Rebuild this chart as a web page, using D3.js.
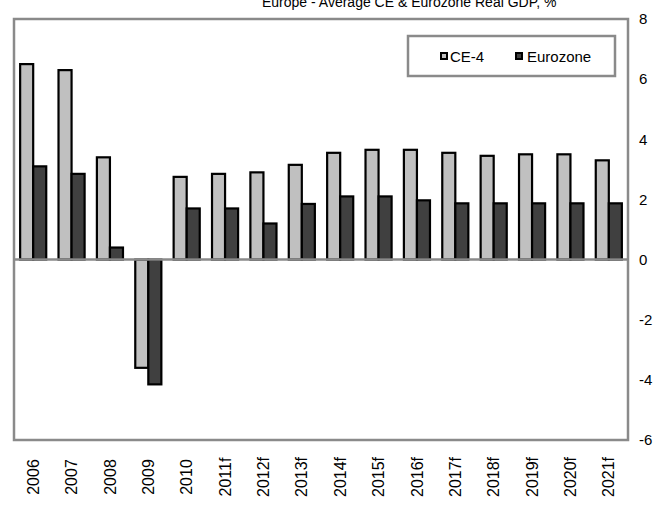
<!DOCTYPE html>
<html><head><meta charset="utf-8">
<script src="https://cdn.jsdelivr.net/npm/d3@7"></script>
<style>body{margin:0;background:#fff;} svg{display:block;font-family:"Liberation Sans",Arial,sans-serif;}</style>
</head><body><svg id="c" width="654" height="505"></svg>
<script>
const categories = ["2006","2007","2008","2009","2010","2011f","2012f","2013f","2014f","2015f","2016f","2017f","2018f","2019f","2020f","2021f"];
const ce4 = [6.5,6.3,3.4,-3.6,2.75,2.85,2.9,3.15,3.55,3.65,3.65,3.55,3.45,3.5,3.5,3.3];
const eurozone = [3.1,2.85,0.4,-4.15,1.7,1.7,1.2,1.85,2.1,2.1,1.97,1.87,1.87,1.87,1.87,1.87];
const seriesNames = ["CE-4","Eurozone"];
const seriesColors = ["#c0c0c0","#404040"];
const yTicks = [-6,-4,-2,0,2,4,6,8];
const title = "Europe - Average CE & Eurozone Real GDP, %";

const svg = d3.select("#c");
const L = 14, R = 628, T = 19, B = 440;
const x = d3.scaleBand().domain(categories).range([L, R]).paddingInner(0.32).paddingOuter(0.16);
const xs = d3.scaleBand().domain(seriesNames).range([0, x.bandwidth()]);
const y = d3.scaleLinear().domain([-6, 8]).range([B, T]);

svg.append("text").attr("x", 262).attr("y", 7).attr("font-size", 14).attr("fill", "#000").text(title);

const data = categories.map((c,i)=>({c, vals:[ce4[i], eurozone[i]]}));
const g = svg.append("g");
g.selectAll("g.cat").data(data).join("g").attr("class","cat")
  .attr("transform", d=>`translate(${x(d.c)},0)`)
  .selectAll("rect").data(d=>d.vals.map((v,j)=>({v,j}))).join("rect")
  .attr("x", d=>xs(seriesNames[d.j]))
  .attr("width", xs.bandwidth())
  .attr("y", d=>y(Math.max(0,d.v)))
  .attr("height", d=>Math.abs(y(d.v)-y(0)))
  .attr("fill", d=>seriesColors[d.j])
  .attr("stroke", "#000").attr("stroke-width", 2.2);

// zero line
svg.append("line").attr("x1", L).attr("x2", R).attr("y1", y(0)).attr("y2", y(0))
  .attr("stroke", "#8a8a8a").attr("stroke-width", 2.5);

// frame
svg.append("rect").attr("x", L).attr("y", T).attr("width", R-L).attr("height", B-T)
  .attr("fill","none").attr("stroke","#8a8a8a").attr("stroke-width",2.5);

// right axis
const ax = svg.append("g").attr("transform", `translate(${R},0)`)
  .call(d3.axisRight(y).tickValues(yTicks).tickSize(0).tickPadding(11).tickFormat(d=>String(d)));
ax.select(".domain").remove();
ax.selectAll("text").attr("font-size", 15).attr("font-family", "Liberation Sans, Arial, sans-serif").attr("fill","#000");

// bottom labels
const bx = svg.append("g").attr("transform", `translate(0,${B})`)
  .call(d3.axisBottom(x).tickSize(0).tickPadding(0));
bx.select(".domain").remove();
bx.selectAll("text").attr("font-size", 16).attr("font-family", "Liberation Sans, Arial, sans-serif").attr("fill","#000")
  .attr("transform","rotate(-90)").attr("text-anchor","middle").attr("dy","0.35em").attr("x",-37).attr("y",0);

// legend
const lg = svg.append("g");
lg.append("rect").attr("x",408).attr("y",36).attr("width",207).attr("height",40)
  .attr("fill","#fff").attr("stroke","#8a8a8a").attr("stroke-width",2.5);
const items = [{n:seriesNames[0], c:seriesColors[0], sx:440, tx:450},{n:seriesNames[1], c:seriesColors[1], sx:515, tx:527}];
items.forEach(it=>{
  lg.append("rect").attr("x",it.sx+1).attr("y",53).attr("width",6).attr("height",6)
    .attr("fill",it.c).attr("stroke","#000").attr("stroke-width",2);
  lg.append("text").attr("x",it.tx).attr("y",62).attr("font-size",15).attr("fill","#000").text(it.n);
});
</script></body></html>
